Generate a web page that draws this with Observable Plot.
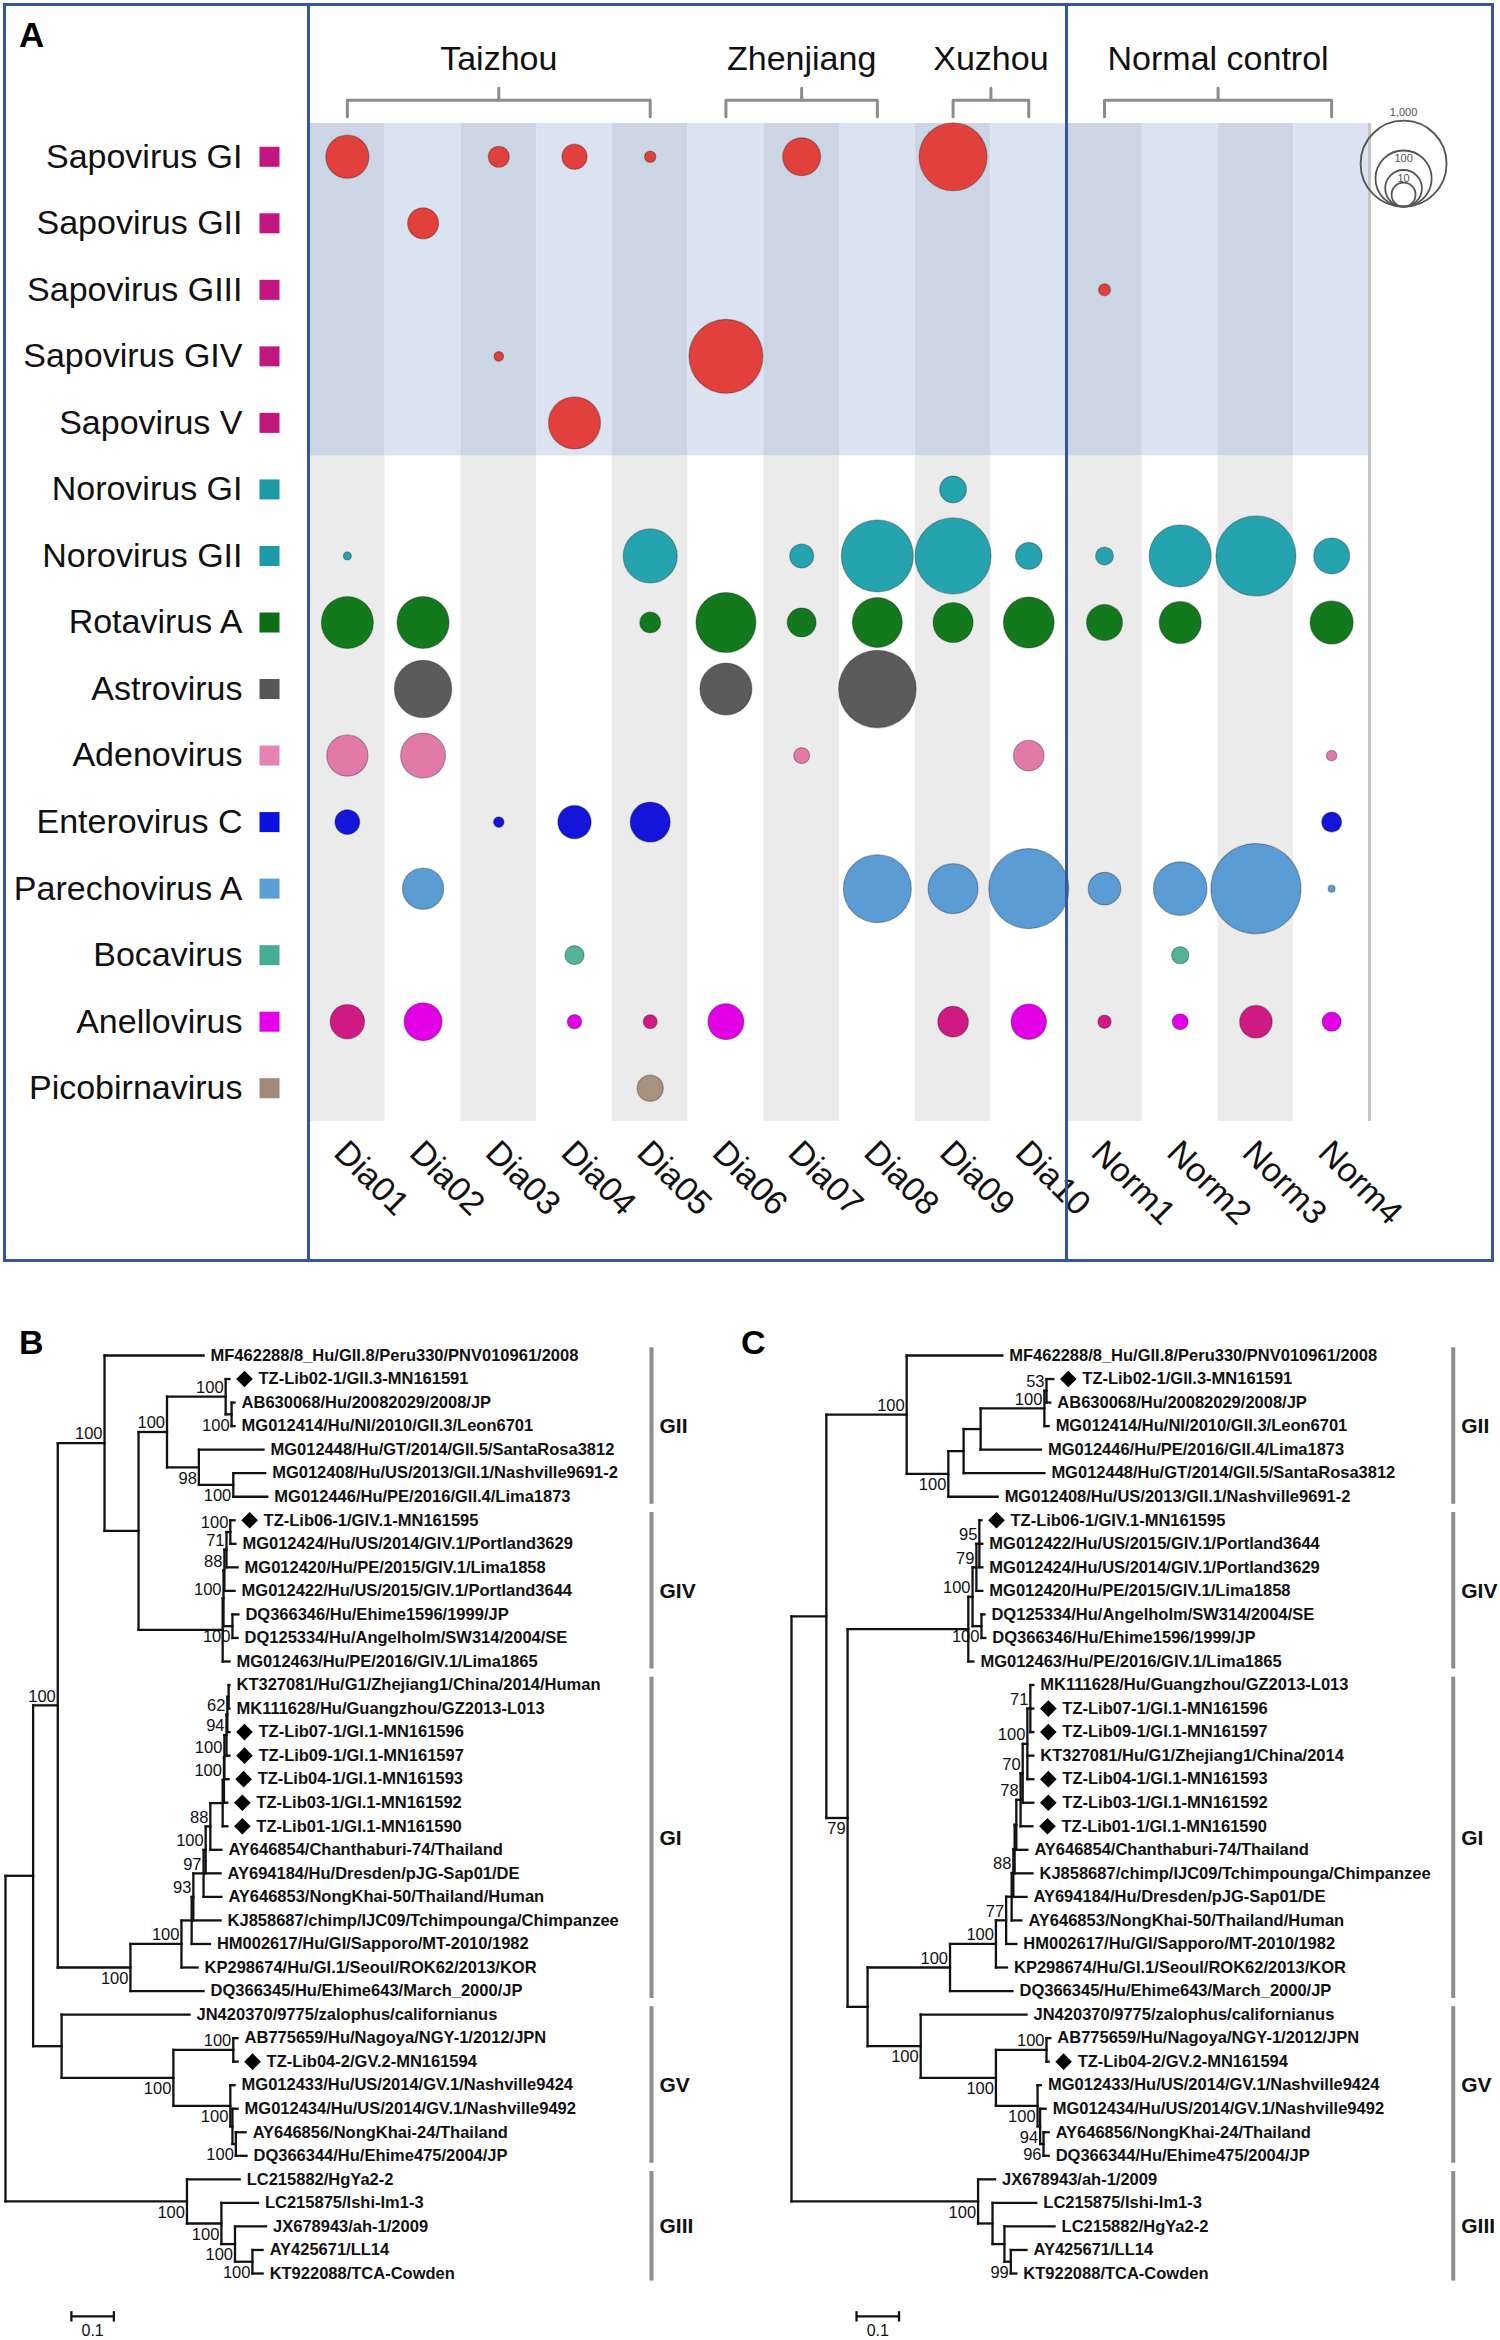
<!DOCTYPE html>
<html>
<head>
<meta charset="utf-8">
<script src="https://cdn.jsdelivr.net/npm/d3@7"></script>
<script src="https://cdn.jsdelivr.net/npm/@observablehq/plot@0.6"></script>
<style>
  html, body { margin: 0; padding: 0; background: #ffffff; }
  #page { position: relative; width: 1500px; height: 2340px; overflow: hidden; background: #fff;
          font-family: "Liberation Sans", Arial, Helvetica, sans-serif; }
  #page svg { position: absolute; overflow: visible; }
  .letter { position: absolute; font-weight: bold; line-height: 1; color: #000; }
  .frame { position: absolute; box-sizing: border-box; border: 3px solid #34569f; }
  .divider { position: absolute; width: 3px; background: #34569f; }
</style>
</head>
<body>
<div id="page"></div>
<script>
// ================= DATA : panel A =================
const viruses = ["Sapovirus GI", "Sapovirus GII", "Sapovirus GIII", "Sapovirus GIV", "Sapovirus V",
  "Norovirus GI", "Norovirus GII", "Rotavirus A", "Astrovirus", "Adenovirus", "Enterovirus C",
  "Parechovirus A", "Bocavirus", "Anellovirus", "Picobirnavirus"];
const samples = ["Dia01", "Dia02", "Dia03", "Dia04", "Dia05", "Dia06", "Dia07", "Dia08", "Dia09", "Dia10",
  "Norm1", "Norm2", "Norm3", "Norm4"];
const locations = ["Taizhou", "Zhenjiang", "Xuzhou", "Normal control"];
const locationFirst = ["Dia01", "Dia06", "Dia09", "Norm1"];
const locationLast = ["Dia05", "Dia08", "Dia10", "Norm4"];
// [virus, sample, relative abundance]
const detections = [
  ["Sapovirus GI", "Dia01", 24], ["Sapovirus GI", "Dia03", 0.49], ["Sapovirus GI", "Dia04", 1.3],
  ["Sapovirus GI", "Dia05", 0.018], ["Sapovirus GI", "Dia07", 12], ["Sapovirus GI", "Dia09", 281],
  ["Sapovirus GII", "Dia02", 4.0],
  ["Sapovirus GIII", "Norm1", 0.024],
  ["Sapovirus GIV", "Dia03", 0.0072], ["Sapovirus GIV", "Dia06", 444],
  ["Sapovirus V", "Dia04", 66],
  ["Norovirus GI", "Dia09", 1.8],
  ["Norovirus GII", "Dia01", 0.0027], ["Norovirus GII", "Dia05", 81], ["Norovirus GII", "Dia07", 1.0],
  ["Norovirus GII", "Dia08", 384], ["Norovirus GII", "Dia09", 514], ["Norovirus GII", "Dia10", 1.8],
  ["Norovirus GII", "Norm1", 0.21], ["Norovirus GII", "Norm2", 171], ["Norovirus GII", "Norm3", 678],
  ["Norovirus GII", "Norm4", 9.0],
  ["Rotavirus A", "Dia01", 66], ["Rotavirus A", "Dia02", 66], ["Rotavirus A", "Dia05", 0.49],
  ["Rotavirus A", "Dia06", 143], ["Rotavirus A", "Dia07", 2.7], ["Rotavirus A", "Dia08", 53],
  ["Rotavirus A", "Dia09", 16], ["Rotavirus A", "Dia10", 58], ["Rotavirus A", "Norm1", 9.0],
  ["Rotavirus A", "Norm2", 21], ["Rotavirus A", "Norm4", 24],
  ["Astrovirus", "Dia02", 113], ["Astrovirus", "Dia06", 66], ["Astrovirus", "Dia08", 573],
  ["Adenovirus", "Dia01", 19], ["Adenovirus", "Dia02", 30], ["Adenovirus", "Dia07", 0.11],
  ["Adenovirus", "Dia10", 3.8], ["Adenovirus", "Norm4", 0.012],
  ["Enterovirus C", "Dia01", 1.2], ["Enterovirus C", "Dia03", 0.012], ["Enterovirus C", "Dia04", 6.0],
  ["Enterovirus C", "Dia05", 16], ["Enterovirus C", "Norm4", 0.38],
  ["Parechovirus A", "Dia02", 19], ["Parechovirus A", "Dia08", 281], ["Parechovirus A", "Dia09", 53],
  ["Parechovirus A", "Dia10", 678], ["Parechovirus A", "Norm1", 5.3], ["Parechovirus A", "Norm2", 78],
  ["Parechovirus A", "Norm3", 1283], ["Parechovirus A", "Norm4", 0.0013],
  ["Bocavirus", "Dia04", 0.30], ["Bocavirus", "Norm2", 0.17],
  ["Anellovirus", "Dia01", 7.1], ["Anellovirus", "Dia02", 12], ["Anellovirus", "Dia04", 0.064],
  ["Anellovirus", "Dia05", 0.055], ["Anellovirus", "Dia06", 9.0], ["Anellovirus", "Dia09", 3.8],
  ["Anellovirus", "Dia10", 8.3], ["Anellovirus", "Norm1", 0.043], ["Anellovirus", "Norm2", 0.11],
  ["Anellovirus", "Norm3", 5.3], ["Anellovirus", "Norm4", 0.30],
  ["Picobirnavirus", "Dia05", 1.6]
];
const anelloDeepSamples = ["Dia01", "Dia05", "Dia09", "Norm1", "Norm3"];
const sizeLegendValues = [1000, 100, 10, 1];
const sizeLegendLabels = ["1,000", "100", "10", ""];

// ================= DATA : panels B & C (trees) =================
// [node id or leaf label, parent, distance from root (subst./site), bootstrap]
const treeB = [
  ["b0", null, 0],
  ["b1", "b0", 0.065],
  ["b2", "b1", 0.123, 100],
  ["b3", "b2", 0.233, 100],
  ["MF462288/8_Hu/GII.8/Peru330/PNV010961/2008", "b3", 0.466],
  ["b4", "b3", 0.313],
  ["b5", "b4", 0.380, 100],
  ["b6", "b5", 0.518, 100],
  ["TZ-Lib02-1/GII.3-MN161591", "b6", 0.527],
  ["b7", "b6", 0.532, 100],
  ["AB630068/Hu/20082029/2008/JP", "b7", 0.539],
  ["MG012414/Hu/NI/2010/GII.3/Leon6701", "b7", 0.539],
  ["b8", "b5", 0.455, 98],
  ["MG012448/Hu/GT/2014/GII.5/SantaRosa3812", "b8", 0.607],
  ["b9", "b8", 0.536, 100],
  ["MG012408/Hu/US/2013/GII.1/Nashville9691-2", "b9", 0.611],
  ["MG012446/Hu/PE/2016/GII.4/Lima1873", "b9", 0.616],
  ["b10", "b4", 0.511],
  ["b11", "b10", 0.513, 100],
  ["b12", "b11", 0.515, 88],
  ["b13", "b12", 0.520, 71],
  ["b14", "b13", 0.529, 100],
  ["TZ-Lib06-1/GIV.1-MN161595", "b14", 0.539],
  ["MG012424/Hu/US/2014/GIV.1/Portland3629", "b14", 0.541],
  ["MG012420/Hu/PE/2015/GIV.1/Lima1858", "b13", 0.546],
  ["MG012422/Hu/US/2015/GIV.1/Portland3644", "b12", 0.539],
  ["b15", "b11", 0.534, 100],
  ["DQ366346/Hu/Ehime1596/1999/JP", "b15", 0.548],
  ["DQ125334/Hu/Angelholm/SW314/2004/SE", "b15", 0.546],
  ["MG012463/Hu/PE/2016/GIV.1/Lima1865", "b10", 0.527],
  ["b16", "b2", 0.294, 100],
  ["b17", "b16", 0.414, 100],
  ["b18", "b17", 0.438],
  ["b19", "b18", 0.442, 93],
  ["b20", "b19", 0.466, 97],
  ["b21", "b20", 0.471, 100],
  ["b22", "b21", 0.482, 88],
  ["b23", "b22", 0.511],
  ["b24", "b23", 0.514, 100],
  ["b25", "b24", 0.515, 100],
  ["b26", "b25", 0.520, 94],
  ["b27", "b26", 0.522, 62],
  ["b38", "b27", 0.525],
  ["KT327081/Hu/G1/Zhejiang1/China/2014/Human", "b38", 0.527],
  ["MK111628/Hu/Guangzhou/GZ2013-L013", "b38", 0.527],
  ["TZ-Lib07-1/GI.1-MN161596", "b27", 0.527],
  ["TZ-Lib09-1/GI.1-MN161597", "b26", 0.527],
  ["TZ-Lib04-1/GI.1-MN161593", "b25", 0.525],
  ["TZ-Lib03-1/GI.1-MN161592", "b24", 0.522],
  ["TZ-Lib01-1/GI.1-MN161590", "b23", 0.522],
  ["AY646854/Chanthaburi-74/Thailand", "b22", 0.508],
  ["AY694184/Hu/Dresden/pJG-Sap01/DE", "b21", 0.506],
  ["AY646853/NongKhai-50/Thailand/Human", "b20", 0.508],
  ["KJ858687/chimp/IJC09/Tchimpounga/Chimpanzee", "b19", 0.506],
  ["HM002617/Hu/GI/Sapporo/MT-2010/1982", "b18", 0.481],
  ["KP298674/Hu/GI.1/Seoul/ROK62/2013/KOR", "b17", 0.452],
  ["DQ366345/Hu/Ehime643/March_2000/JP", "b16", 0.466],
  ["b28", "b1", 0.132],
  ["JN420370/9775/zalophus/californianus", "b28", 0.433],
  ["b29", "b28", 0.395, 100],
  ["b30", "b29", 0.536, 100],
  ["AB775659/Hu/Nagoya/NGY-1/2012/JPN", "b30", 0.546],
  ["TZ-Lib04-2/GV.2-MN161594", "b30", 0.546],
  ["b31", "b29", 0.529, 100],
  ["MG012433/Hu/US/2014/GV.1/Nashville9424", "b31", 0.539],
  ["b32", "b31", 0.534],
  ["MG012434/Hu/US/2014/GV.1/Nashville9492", "b32", 0.546],
  ["b33", "b32", 0.542, 100],
  ["AY646856/NongKhai-24/Thailand", "b33", 0.565],
  ["DQ366344/Hu/Ehime475/2004/JP", "b33", 0.567],
  ["b34", "b0", 0.427, 100],
  ["LC215882/HgYa2-2", "b34", 0.551],
  ["b35", "b34", 0.508, 100],
  ["LC215875/Ishi-Im1-3", "b35", 0.594],
  ["b36", "b35", 0.540, 100],
  ["JX678943/ah-1/2009", "b36", 0.613],
  ["b37", "b36", 0.581, 100],
  ["AY425671/LL14", "b37", 0.605],
  ["KT922088/TCA-Cowden", "b37", 0.605]
];
const treeC = [
  ["c0", null, 0],
  ["c1", "c0", 0.082],
  ["c2", "c1", 0.271, 100],
  ["MF462288/8_Hu/GII.8/Peru330/PNV010961/2008", "c2", 0.496],
  ["c3", "c2", 0.369, 100],
  ["c4", "c3", 0.405],
  ["c5", "c4", 0.445],
  ["c6", "c5", 0.595, 100],
  ["c7", "c6", 0.600, 53],
  ["TZ-Lib02-1/GII.3-MN161591", "c7", 0.616],
  ["AB630068/Hu/20082029/2008/JP", "c7", 0.609],
  ["MG012414/Hu/NI/2010/GII.3/Leon6701", "c6", 0.605],
  ["MG012446/Hu/PE/2016/GII.4/Lima1873", "c5", 0.587],
  ["MG012448/Hu/GT/2014/GII.5/SantaRosa3812", "c4", 0.595],
  ["MG012408/Hu/US/2013/GII.1/Nashville9691-2", "c3", 0.485],
  ["c8", "c1", 0.132, 79],
  ["c9", "c8", 0.416],
  ["c10", "c9", 0.426, 100],
  ["c11", "c10", 0.435, 79],
  ["c12", "c11", 0.442, 95],
  ["TZ-Lib06-1/GIV.1-MN161595", "c12", 0.447],
  ["MG012422/Hu/US/2015/GIV.1/Portland3644", "c12", 0.449],
  ["MG012424/Hu/US/2014/GIV.1/Portland3629", "c12", 0.449],
  ["MG012420/Hu/PE/2015/GIV.1/Lima1858", "c11", 0.449],
  ["c13", "c10", 0.447, 100],
  ["DQ125334/Hu/Angelholm/SW314/2004/SE", "c13", 0.454],
  ["DQ366346/Hu/Ehime1596/1999/JP", "c13", 0.456],
  ["MG012463/Hu/PE/2016/GIV.1/Lima1865", "c9", 0.428],
  ["c14", "c8", 0.179],
  ["c15", "c14", 0.373, 100],
  ["c16", "c15", 0.481, 100],
  ["c17", "c16", 0.505, 77],
  ["c18", "c17", 0.518],
  ["c19", "c18", 0.522, 88],
  ["c20", "c19", 0.525],
  ["c21", "c20", 0.529],
  ["c22", "c21", 0.539, 78],
  ["c23", "c22", 0.544, 70],
  ["c24", "c23", 0.555, 100],
  ["c25", "c24", 0.562, 71],
  ["MK111628/Hu/Guangzhou/GZ2013-L013", "c25", 0.569],
  ["TZ-Lib07-1/GI.1-MN161596", "c25", 0.569],
  ["TZ-Lib09-1/GI.1-MN161597", "c25", 0.569],
  ["KT327081/Hu/G1/Zhejiang1/China/2014", "c24", 0.569],
  ["TZ-Lib04-1/GI.1-MN161593", "c24", 0.569],
  ["TZ-Lib03-1/GI.1-MN161592", "c23", 0.569],
  ["TZ-Lib01-1/GI.1-MN161590", "c22", 0.567],
  ["AY646854/Chanthaburi-74/Thailand", "c21", 0.555],
  ["KJ858687/chimp/IJC09/Tchimpounga/Chimpanzee", "c20", 0.567],
  ["AY694184/Hu/Dresden/pJG-Sap01/DE", "c19", 0.553],
  ["AY646853/NongKhai-50/Thailand/Human", "c18", 0.541],
  ["HM002617/Hu/GI/Sapporo/MT-2010/1982", "c17", 0.529],
  ["KP298674/Hu/GI.1/Seoul/ROK62/2013/KOR", "c16", 0.507],
  ["DQ366345/Hu/Ehime643/March_2000/JP", "c15", 0.520],
  ["c26", "c14", 0.304, 100],
  ["JN420370/9775/zalophus/californianus", "c26", 0.553],
  ["c27", "c26", 0.481, 100],
  ["c28", "c27", 0.600, 100],
  ["AB775659/Hu/Nagoya/NGY-1/2012/JPN", "c28", 0.609],
  ["TZ-Lib04-2/GV.2-MN161594", "c28", 0.605],
  ["c29", "c27", 0.579, 100],
  ["MG012433/Hu/US/2014/GV.1/Nashville9424", "c29", 0.587],
  ["c30", "c29", 0.585, 94],
  ["MG012434/Hu/US/2014/GV.1/Nashville9492", "c30", 0.598],
  ["c31", "c30", 0.593, 96],
  ["AY646856/NongKhai-24/Thailand", "c31", 0.605],
  ["DQ366344/Hu/Ehime475/2004/JP", "c31", 0.605],
  ["c32", "c0", 0.439, 100],
  ["JX678943/ah-1/2009", "c32", 0.479],
  ["c33", "c32", 0.473],
  ["LC215875/Ishi-Im1-3", "c33", 0.576],
  ["c34", "c33", 0.501],
  ["LC215882/HgYa2-2", "c34", 0.619],
  ["c35", "c34", 0.516, 99],
  ["AY425671/LL14", "c35", 0.553],
  ["KT922088/TCA-Cowden", "c35", 0.529]
];
const cladeNames = ["GII", "GIV", "GI", "GV", "GIII"];
const cladeFirstLeaf = [0, 7, 14, 28, 35];
const cladeLastLeaf = [6, 13, 27, 34, 39];
const scaleBarLength = 0.1;

// ================= STYLE / LAYOUT =================
const FONT = '"Liberation Sans", Arial, Helvetica, sans-serif';
const page = document.getElementById("page");

function familyFill(v, sample) {
  if (v.startsWith("Sapovirus")) return "#e2403c";
  if (v.startsWith("Norovirus")) return "#25a3ae";
  if (v === "Anellovirus") return anelloDeepSamples.includes(sample) ? "#cf1a84" : "#e200e6";
  return {"Rotavirus A": "#12791d", "Astrovirus": "#5b5b5b", "Adenovirus": "#e17aa9",
    "Enterovirus C": "#1515d9", "Parechovirus A": "#5c9cd4", "Bocavirus": "#52b39b",
    "Picobirnavirus": "#a99180"}[v];
}
function keyFill(v) {
  if (v.startsWith("Sapovirus")) return "#c2177f";
  if (v.startsWith("Norovirus")) return "#1c9aa6";
  return {"Rotavirus A": "#0f6d16", "Astrovirus": "#585858", "Adenovirus": "#e583b4",
    "Enterovirus C": "#0b12e0", "Parechovirus A": "#5b9fd6", "Bocavirus": "#45ad95",
    "Anellovirus": "#e300ea", "Picobirnavirus": "#a2897a"}[v];
}

// ---------- Panel A ----------
const A_W = 1500, A_H = 1265;
const A_X0 = 309, A_X1 = 1369, A_Y0 = 123, A_Y1 = 1121;
const rowPx = (A_Y1 - A_Y0) / viruses.length;
const R_OPTS = {type: "pow", exponent: 0.185, domain: [0, 1000], range: [0, 43]};
const rPx = d3.scalePow().exponent(R_OPTS.exponent).domain(R_OPTS.domain).range(R_OPTS.range);
const BRACKET = {leg: -0.6, bar: -0.85, tip: -1.03};
const LEGEND_X = 13.95, LEGEND_BOTTOM = 0.75;
const A_FONT = 34;

const xIdx = s => samples.indexOf(s);
const yIdx = v => viruses.indexOf(v);
const nSapo = viruses.filter(v => v.startsWith("Sapovirus")).length;

const cells = [];
samples.forEach((s, i) => {
  cells.push({x1: i - 0.5, x2: i + 0.5, y1: -0.5, y2: nSapo - 0.5, fill: i % 2 === 0 ? "#ccd5e3" : "#dbe3f0"});
  cells.push({x1: i - 0.5, x2: i + 0.5, y1: nSapo - 0.5, y2: viruses.length - 0.5, fill: i % 2 === 0 ? "#ebebeb" : "#ffffff"});
});
const bubbles = detections.map(([virus, sample, value]) => ({virus, sample, value}));
const groups = locations.map((name, i) => ({name, a: xIdx(locationFirst[i]), b: xIdx(locationLast[i])}));
const bracketPts = groups.flatMap(g => {
  const m = (g.a + g.b) / 2;
  return [[g.a, BRACKET.leg], [g.a, BRACKET.bar], [m, BRACKET.bar], [m, BRACKET.tip], [m, BRACKET.bar],
    [g.b, BRACKET.bar], [g.b, BRACKET.leg]].map(([x, y]) => ({g: g.name, x, y}));
});
const legendData = sizeLegendValues.map((v, i) => ({v, label: sizeLegendLabels[i]}));
const legendMax = d3.max(sizeLegendValues);

const plotA = Plot.plot({
  width: A_W, height: A_H,
  marginLeft: A_X0, marginRight: A_W - A_X1, marginTop: A_Y0, marginBottom: A_H - A_Y1,
  x: {domain: [-0.5, samples.length - 0.5], range: [A_X0, A_X1], axis: null},
  y: {domain: [-0.5, viruses.length - 0.5], range: [A_Y0, A_Y1], axis: null},
  r: R_OPTS,
  color: {type: "identity"},
  style: {fontFamily: FONT, background: "transparent", overflow: "visible"},
  marks: [
    Plot.rect(cells, {x1: "x1", x2: "x2", y1: "y1", y2: "y2", fill: "fill"}),
    Plot.ruleX([samples.length - 0.5], {stroke: "#c6c6c6", strokeWidth: 3}),
    Plot.dot(bubbles, {x: d => xIdx(d.sample), y: d => yIdx(d.virus), r: "value",
      fill: d => familyFill(d.virus, d.sample), stroke: "rgba(0,0,0,0.28)", strokeWidth: 1.2}),
    Plot.text(viruses, {y: (d, i) => i, frameAnchor: "left", dx: -67, textAnchor: "end",
      lineAnchor: "middle", text: d => d, fontSize: A_FONT, fill: "#111"}),
    Plot.dot(viruses, {y: (d, i) => i, frameAnchor: "left", dx: -40, symbol: "square", r: 11.3,
      fill: d => keyFill(d)}),
    Plot.text(samples, {x: (d, i) => i, frameAnchor: "bottom", rotate: 45, textAnchor: "start",
      lineAnchor: "top", dy: 16, dx: 2, text: d => d, fontSize: A_FONT, fill: "#111"}),
    Plot.line(bracketPts, {x: "x", y: "y", z: "g", stroke: "#8c8c8c", strokeWidth: 3,
      strokeLinejoin: "round", strokeLinecap: "round"}),
    Plot.text(groups, {x: d => (d.a + d.b) / 2, frameAnchor: "top", lineAnchor: "middle", dy: -64,
      text: "name", fontSize: A_FONT, fill: "#111"}),
    Plot.dot(legendData, {x: () => LEGEND_X, y: d => LEGEND_BOTTOM - rPx(d.v) / rowPx, r: "v",
      fill: "none", stroke: "#555", strokeWidth: 1.8}),
    Plot.text(legendData.filter(d => d.v === legendMax), {x: () => LEGEND_X,
      y: d => LEGEND_BOTTOM - 2 * rPx(d.v) / rowPx, dy: -8, text: "label", fontSize: 11, fill: "#555"}),
    Plot.text(legendData.filter(d => d.v !== legendMax && d.label), {x: () => LEGEND_X,
      y: d => LEGEND_BOTTOM - 2 * rPx(d.v) / rowPx, dy: 8, text: "label", fontSize: 11, fill: "#555"})
  ]
});
plotA.style.left = "0px"; plotA.style.top = "0px";
page.appendChild(plotA);

const xA = plotA.scale("x");
function addDiv(cls, css) {
  const d = document.createElement("div");
  d.className = cls;
  Object.assign(d.style, css);
  page.appendChild(d);
  return d;
}
addDiv("frame", {left: "3px", top: "3px", width: "1491px", height: "1259px"});
addDiv("divider", {left: (xA.apply(-0.5) - 2) + "px", top: "3px", height: "1259px"});
addDiv("divider", {left: (xA.apply(9.5) - 1.5) + "px", top: "3px", height: "1259px"});

// ---------- Trees ----------
function layoutTree(rows) {
  const nodes = rows.map(([id, parent, depth, bs]) => ({id, parent, depth, bs, children: []}));
  const byId = new Map(nodes.map(n => [n.id, n]));
  let root;
  for (const n of nodes) {
    if (n.parent == null) root = n; else byId.get(n.parent).children.push(n);
  }
  let k = 0;
  (function visit(n) {
    if (!n.children.length) { n.y = k++; return; }
    n.children.forEach(visit);
    n.y = (n.children[0].y + n.children[n.children.length - 1].y) / 2;
  })(root);
  for (const n of nodes) {
    if (n.parent != null) {
      const p = byId.get(n.parent);
      n.p = p;
      n.below = p.children.length > 1 && p.children[p.children.length - 1] === n;
    }
  }
  return {nodes, nLeaves: k};
}

const PX_PER_UNIT = 425;
function treePlot(rows, width, rootPx, cladeX, scaleBarX) {
  const {nodes, nLeaves} = layoutTree(rows);
  const segs = [];
  for (const n of nodes) {
    if (n.p) segs.push({x1: n.p.depth, x2: n.depth, y1: n.y, y2: n.y});
    if (n.children.length) segs.push({x1: n.depth, x2: n.depth, y1: n.children[0].y,
      y2: n.children[n.children.length - 1].y});
  }
  const leaves = nodes.filter(n => !n.children.length);
  const tz = leaves.filter(n => n.id.startsWith("TZ-"));
  const plain = leaves.filter(n => !n.id.startsWith("TZ-"));
  const bs = nodes.filter(n => n.bs != null);
  const clades = cladeNames.map((name, i) => ({name, a: cladeFirstLeaf[i], b: cladeLastLeaf[i]}));
  const SB_ROW = nLeaves - 1 + 1.82;
  return Plot.plot({
    width, height: 1040, margin: 0,
    x: {domain: [0, 1], range: [rootPx, rootPx + PX_PER_UNIT], axis: null},
    y: {domain: [0, nLeaves - 1], range: [55, 973], axis: null},
    style: {fontFamily: FONT, background: "transparent", overflow: "visible"},
    marks: [
      Plot.link(segs, {x1: "x1", x2: "x2", y1: "y1", y2: "y2", stroke: "#111", strokeWidth: 2.3,
        strokeLinecap: "square"}),
      Plot.text(plain, {x: "depth", y: "y", text: "id", textAnchor: "start", dx: 7, fontSize: 16.5,
        fontWeight: "bold", fill: "#111"}),
      Plot.dot(tz, {x: "depth", y: "y", dx: 15, symbol: "diamond2", r: 7.5, fill: "#000"}),
      Plot.text(tz, {x: "depth", y: "y", text: "id", textAnchor: "start", dx: 29, fontSize: 16.5,
        fontWeight: "bold", fill: "#111"}),
      Plot.text(bs.filter(n => !n.below), {x: "depth", y: "y", text: d => String(d.bs),
        textAnchor: "end", dx: -2, dy: -9, fontSize: 16.5, fill: "#111"}),
      Plot.text(bs.filter(n => n.below), {x: "depth", y: "y", text: d => String(d.bs),
        textAnchor: "end", dx: -2, dy: 11, fontSize: 16.5, fill: "#111"}),
      Plot.link(clades, {x1: () => cladeX, x2: () => cladeX, y1: d => d.a - 0.35, y2: d => d.b + 0.3,
        stroke: "#8c8c8c", strokeWidth: 4}),
      Plot.text(clades, {x: () => cladeX, y: d => (d.a + d.b) / 2, text: "name", dx: 8,
        textAnchor: "start", fontSize: 21, fontWeight: "bold", fill: "#111"}),
      Plot.link([scaleBarLength], {x1: () => scaleBarX, x2: d => scaleBarX + d,
        y1: () => SB_ROW, y2: () => SB_ROW, stroke: "#111", strokeWidth: 2.3}),
      Plot.link([0, scaleBarLength], {x1: d => scaleBarX + d, x2: d => scaleBarX + d,
        y1: () => SB_ROW - 0.22, y2: () => SB_ROW + 0.22, stroke: "#111", strokeWidth: 2.3}),
      Plot.text([scaleBarLength], {x: d => scaleBarX + d / 2, y: () => SB_ROW + 0.6,
        text: d => String(d), fontSize: 16, fill: "#111"})
    ]
  });
}

const plotB = treePlot(treeB, 740, 5, 1.52, 0.155);
plotB.style.left = "0px"; plotB.style.top = "1300px";
page.appendChild(plotB);
const plotC = treePlot(treeC, 760, 51, 1.557, 0.153);
plotC.style.left = "740px"; plotC.style.top = "1300px";
page.appendChild(plotC);

// ---------- Panel letters ----------
function letter(t, left, top, size) {
  const d = addDiv("letter", {left: left + "px", top: top + "px", fontSize: size + "px"});
  d.textContent = t;
}
letter("A", 19, 17, 35);
letter("B", 19, 1325, 34);
letter("C", 741, 1325, 34);
</script>
</body>
</html>
